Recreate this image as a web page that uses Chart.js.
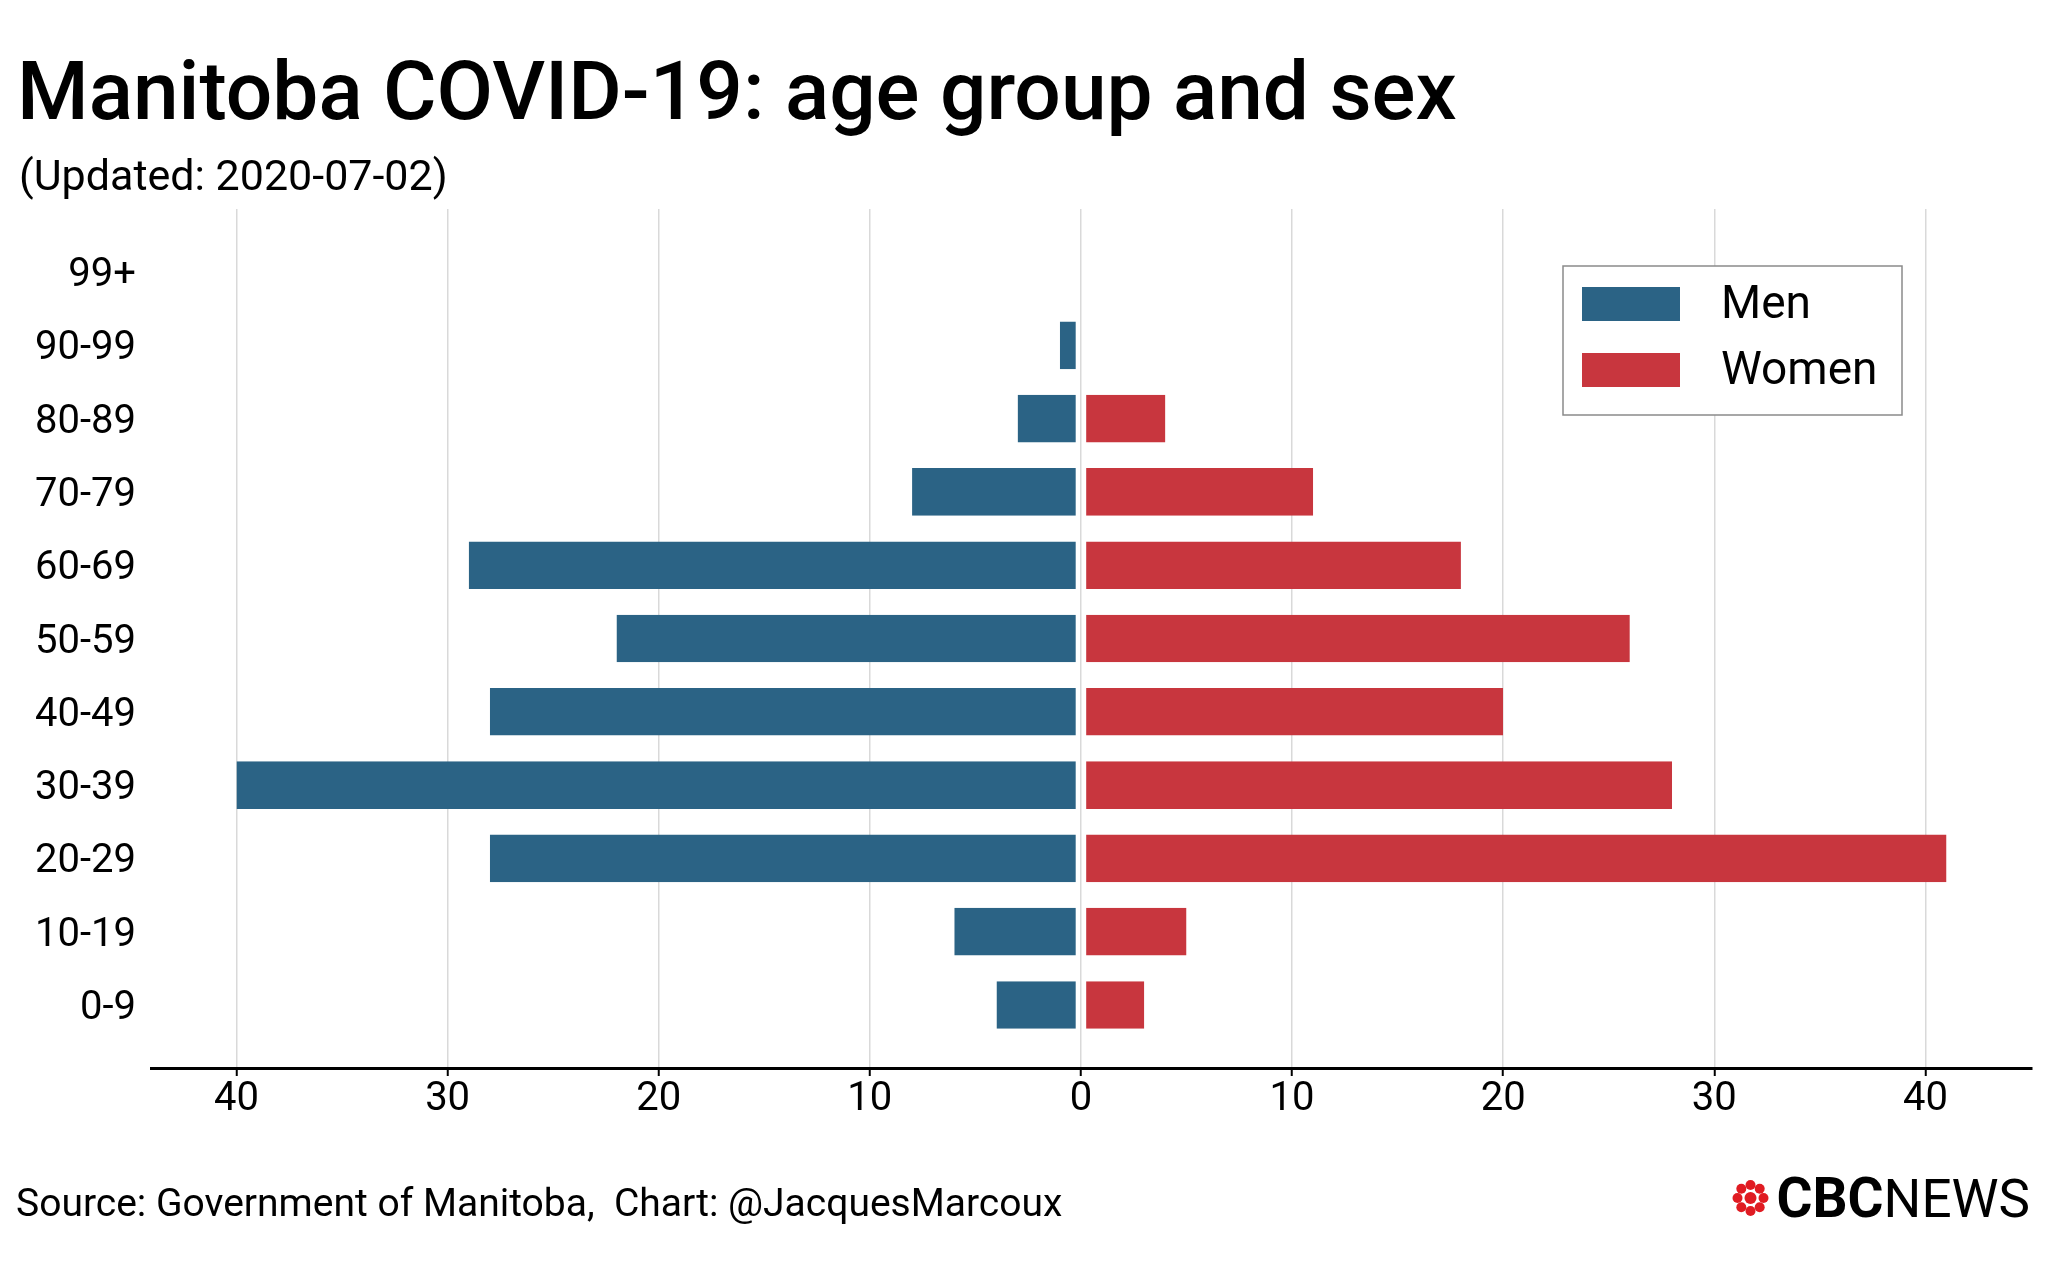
<!DOCTYPE html>
<html>
<head>
<meta charset="utf-8">
<script src="https://cdn.jsdelivr.net/npm/chart.js@4.4.1/dist/chart.umd.min.js"></script>
<style>
  html, body { margin: 0; padding: 0; background: #fff; }
  canvas { display: block; }
</style>
</head>
<body>
<canvas id="pyramid" width="2048" height="1284"></canvas>
<script>
// age groups, youngest first (bottom of the chart)
const ageGroups = ['0-9', '10-19', '20-29', '30-39', '40-49', '50-59', '60-69', '70-79', '80-89', '90-99', '99+'];
const men   = [4, 6, 28, 40, 28, 22, 29, 8, 3, 1, 0];
const women = [3, 5, 41, 28, 20, 26, 18, 11, 4, 0, 0];
const xTicks = [-40, -30, -20, -10, 0, 10, 20, 30, 40];

const MEN_COLOR = '#2b6385';
const WOMEN_COLOR = '#c8363e';
const FONT = 'Roboto';

// title, subtitle, source line and logo
const textPlugin = {
  id: 'texts',
  afterDraw(chart) {
    const c = chart.ctx;
    c.save();
    c.fillStyle = '#000';
    c.textBaseline = 'alphabetic';
    c.textAlign = 'left';
    c.font = '500 82px ' + FONT;
    c.fillText('Manitoba COVID-19: age group and sex', 17, 119);
    c.font = '43px ' + FONT;
    c.fillText('(Updated: 2020-07-02)', 19, 190);
    c.font = '39px ' + FONT;
    c.fillText('Source: Government of Manitoba,  Chart: @JacquesMarcoux', 16, 1216);

    // CBC NEWS
    c.textAlign = 'right';
    c.font = '53px ' + FONT;
    c.fillText('NEWS', 2030, 1217);
    const newsW = c.measureText('NEWS').width;
    c.font = 'bold 55px ' + FONT;
    c.fillText('CBC', 2030 - newsW, 1217);
    const cbcW = c.measureText('CBC').width;
    // gem
    const gx = 2030 - newsW - cbcW - 26, gy = 1198;
    c.fillStyle = '#e01b22';
    c.beginPath(); c.arc(gx, gy, 6, 0, Math.PI * 2); c.fill();
    for (let k = 0; k < 8; k++) {
      const a = k * Math.PI / 4;
      c.beginPath();
      c.arc(gx + Math.cos(a) * 13, gy + Math.sin(a) * 13, 5, 0, Math.PI * 2);
      c.fill();
    }
    c.restore();
  }
};

// boxed legend inside the plot area
const legendPlugin = {
  id: 'boxLegend',
  afterDraw(chart) {
    const c = chart.ctx;
    const x = 1563, y = 266, w = 339, h = 149;
    c.save();
    c.fillStyle = '#fff';
    c.fillRect(x, y, w, h);
    c.strokeStyle = '#8a8a8a';
    c.lineWidth = 1.5;
    c.strokeRect(x, y, w, h);
    c.font = '46px ' + FONT;
    c.textBaseline = 'middle';
    c.textAlign = 'left';
    chart.data.datasets.forEach((ds, i) => {
      const cy = y + 38 + i * 66;
      c.fillStyle = ds.backgroundColor;
      c.fillRect(x + 19, cy - 17, 98, 34);
      c.fillStyle = '#000';
      c.fillText(ds.label, x + 158, cy + 2);
    });
    c.restore();
  }
};

new Chart(document.getElementById('pyramid'), {
  type: 'bar',
  data: {
    datasets: [
      {
        label: 'Men',
        data: men.map((v, i) => ({ x: -v, y: i })),
        backgroundColor: MEN_COLOR,
        borderColor: 'rgba(0,0,0,0)',
        borderWidth: { top: 0, bottom: 0, left: 0, right: 4.5 },
        borderSkipped: false
      },
      {
        label: 'Women',
        data: women.map((v, i) => ({ x: v, y: i })),
        backgroundColor: WOMEN_COLOR,
        borderColor: 'rgba(0,0,0,0)',
        borderWidth: { top: 0, bottom: 0, left: 4.5, right: 0 },
        borderSkipped: false
      }
    ]
  },
  options: {
    indexAxis: 'y',
    responsive: false,
    animation: false,
    devicePixelRatio: 1,
    grouped: false,
    barPercentage: 0.65,
    categoryPercentage: 1,
    layout: { padding: { top: 209, right: 16, bottom: 0, left: 0 } },
    plugins: {
      legend: { display: false },
      tooltip: { enabled: false }
    },
    scales: {
      x: {
        type: 'linear',
        min: -44.05,
        max: 45.05,
        afterBuildTicks: s => { s.ticks = xTicks.map(v => ({ value: v })); },
        afterFit: s => { s.height = 216; },
        grid: {
          color: '#d9d9d9',
          lineWidth: 1.5,
          tickColor: '#000',
          tickLength: 8,
          tickWidth: 2
        },
        border: { display: true, color: '#000', width: 3 },
        ticks: {
          color: '#000',
          font: { family: FONT, size: 40 },
          padding: 0,
          maxRotation: 0,
          callback: v => Math.abs(v)
        }
      },
      y: {
        type: 'linear',
        offset: false,
        min: -0.86,
        max: 10.86,
        afterBuildTicks: s => { s.ticks = ageGroups.map((_, i) => ({ value: i })); },
        afterFit: s => { s.width = 151; },
        grid: { display: false, drawTicks: false, offset: false },
        border: { display: false },
        ticks: {
          color: '#000',
          font: { family: FONT, size: 40 },
          padding: 15,
          labelOffset: 4,
          callback: v => ageGroups[v]
        }
      }
    }
  },
  plugins: [textPlugin, legendPlugin]
});
</script>
</body>
</html>
